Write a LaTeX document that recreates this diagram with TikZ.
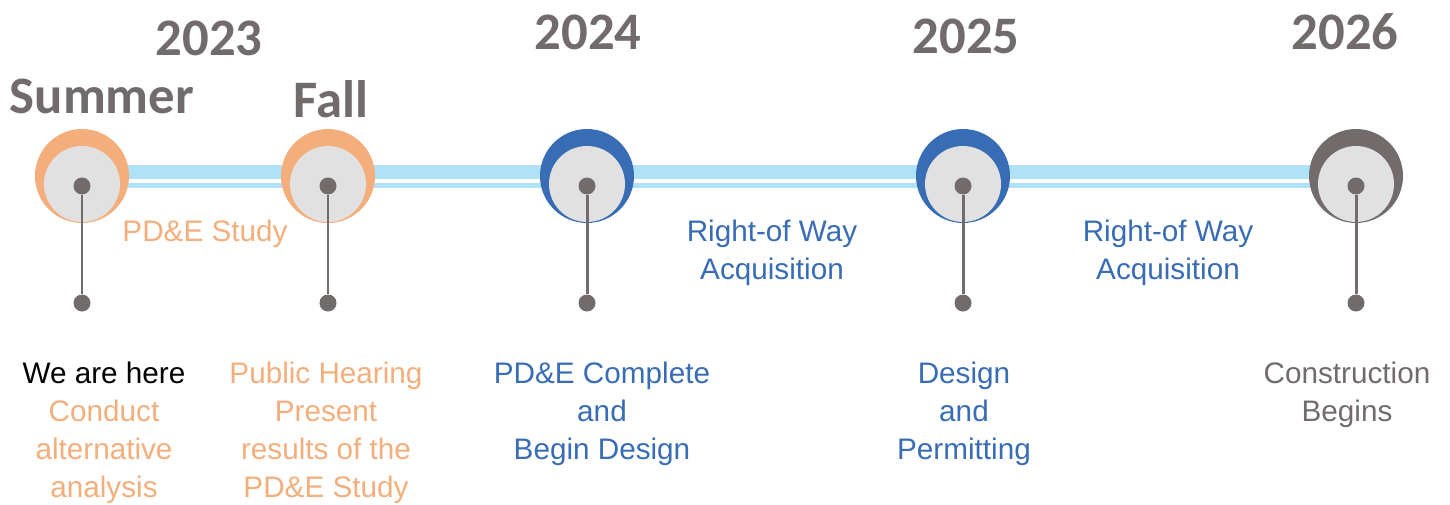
\documentclass[tikz,border=0pt]{standalone}
\usepackage{fontspec}
\setmainfont{Liberation Sans}
\newfontfamily\yearfont{Carlito}
\usetikzlibrary{positioning}

\definecolor{pdeorange}{HTML}{F4AE7C}
\definecolor{rowblue}{HTML}{386CB5}
\definecolor{stonegray}{HTML}{716B6B}
\definecolor{discgray}{HTML}{E1E1E1}
\definecolor{barblue}{HTML}{AFE1F7}

\tikzset{
  year/.style={font=\yearfont\bfseries\fontsize{30}{34}\selectfont, text=stonegray, anchor=base, inner sep=0pt},
  ring/.style={circle, minimum size=1.88cm, inner sep=0pt},
  disc/.style={circle, fill=discgray, minimum size=1.52cm, inner sep=0pt},
  knob/.style={circle, fill=stonegray, minimum size=0.34cm, inner sep=0pt},
  stem/.style={stonegray, line width=1.7pt},
  note/.style={font=\fontsize{16.9}{21.5}\selectfont, align=center, anchor=base, inner sep=0pt},
}

\begin{document}
\begin{tikzpicture}[x=0.02cm, y=-0.02cm]
			\useasboundingbox (0,0) rectangle (1450,504);

			% years and seasons
			\node[year] (y2023) at (209,55) {2023};
			\node[year] (summer) at (102,113) {Summer};
			\node[year] (fall) at (331,117) {Fall};
			\node[year] (y2024) at (588,49) {2024};
			\node[year] (y2025) at (966,53) {2025};
			\node[year] (y2026) at (1345,49) {2026};

			% timeline bar
			\fill[barblue] (82,165) rectangle (1356,179);
			\fill[barblue] (82,183) rectangle (1356,188);

			% milestones
			\node[ring, fill=pdeorange] (r1) at (82,176) {};
			\node[disc] (d1) at (82,184) {};
			\node[knob] (t1) at (82,186) {};
			\node[knob] (b1) at (82,303) {};
			\draw[stem] (t1) -- (b1);

			\node[ring, fill=pdeorange] (r2) at (328,176) {};
			\node[disc] (d2) at (328,184) {};
			\node[knob] (t2) at (328,186) {};
			\node[knob] (b2) at (328,303) {};
			\draw[stem] (t2) -- (b2);

			\node[ring, fill=rowblue] (r3) at (587,176) {};
			\node[disc] (d3) at (587,184) {};
			\node[knob] (t3) at (587,186) {};
			\node[knob] (b3) at (587,303) {};
			\draw[stem] (t3) -- (b3);

			\node[ring, fill=rowblue] (r4) at (963,176) {};
			\node[disc] (d4) at (963,184) {};
			\node[knob] (t4) at (963,186) {};
			\node[knob] (b4) at (963,303) {};
			\draw[stem] (t4) -- (b4);

			\node[ring, fill=stonegray] (r5) at (1356,176) {};
			\node[disc] (d5) at (1356,184) {};
			\node[knob] (t5) at (1356,186) {};
			\node[knob] (b5) at (1356,303) {};
			\draw[stem] (t5) -- (b5);

			% phases (base = last line)
			\node[note, text=pdeorange] (study) at (205,241) {PD\&E Study};
			\node[note, text=rowblue] (row1) at (772,279) {Right-of Way\\Acquisition};
			\node[note, text=rowblue] (row2) at (1168,279) {Right-of Way\\Acquisition};

			% descriptions
			\node[note] (here) at (104,497) {We are here\\\textcolor{pdeorange}{Conduct}\\\textcolor{pdeorange}{alternative}\\\textcolor{pdeorange}{analysis}};
			\node[note, text=pdeorange] (hearing) at (326,497) {Public Hearing\\Present\\results of the\\PD\&E Study};
			\node[note, text=rowblue] (complete) at (602,459) {PD\&E Complete\\and\\Begin Design};
			\node[note, text=rowblue] (permit) at (964,459) {Design\\and\\Permitting};
			\node[note, text=stonegray] (build) at (1347,421) {Construction\\Begins};

\end{tikzpicture}
\end{document}
